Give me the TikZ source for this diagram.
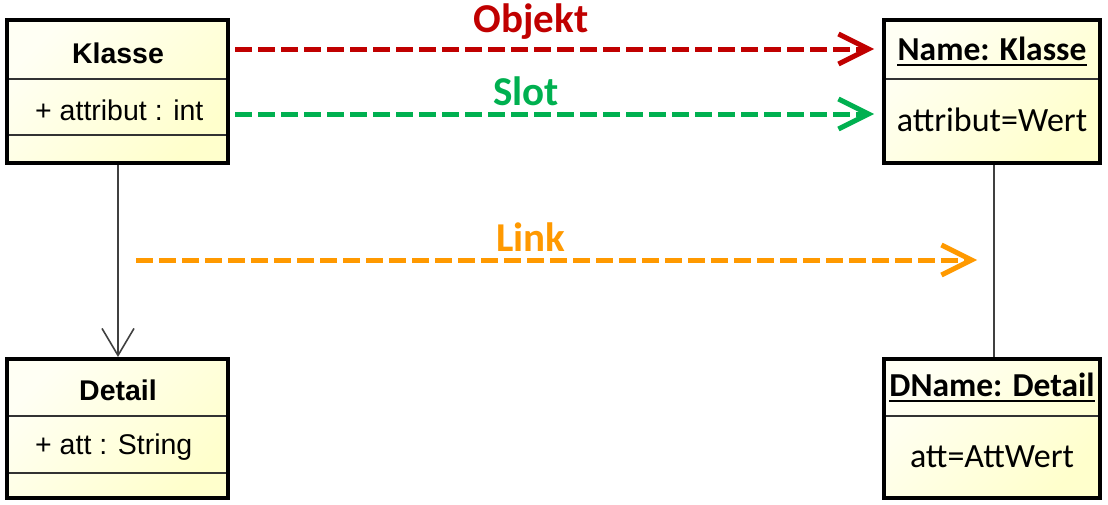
\documentclass[tikz,border=0pt]{standalone}
\usepackage{fontspec}
\newfontfamily\arialf{Liberation Sans}
\newfontfamily\calibrif{Carlito}
\usetikzlibrary{arrows.meta}
\definecolor{cred}{HTML}{C00000}
\definecolor{cgreen}{HTML}{00B050}
\definecolor{corange}{HTML}{FF9900}
\definecolor{cfillA}{HTML}{FFFFF4}
\definecolor{cfillB}{HTML}{FFFFCC}
\definecolor{cdiv}{HTML}{333333}
\definecolor{cline}{HTML}{404040}
\begin{document}
\begin{tikzpicture}[x=1pt,y=-1pt,
  umlbox/.style={draw=black,line width=4.5pt,left color=cfillA,right color=cfillB,shading angle=45},
  divline/.style={draw=cdiv,line width=1.8pt},
  cname/.style={inner sep=0pt,font=\arialf\bfseries\fontsize{28.5}{32}\selectfont},
  cattr/.style={inner sep=0pt,anchor=west,font=\arialf\fontsize{28.5}{32}\selectfont},
  oname/.style={inner sep=0pt,font=\calibrif\bfseries\fontsize{33.5}{38}\selectfont},
  oattr/.style={inner sep=0pt,font=\calibrif\fontsize{34}{38}\selectfont},
  lbl/.style={inner sep=0pt,font=\calibrif\bfseries\fontsize{41}{46}\selectfont},
  dasharrow/.style={line width=5pt,dash pattern=on 17pt off 6pt,-{Straight Barb[length=30pt,width=30pt,line width=5pt]}},
  assoc/.style={draw=cline,line width=1.6pt},
]
\useasboundingbox (0,0) rectangle (1108,504);

% boxes
\path[umlbox] (7,20) rectangle (228,163);
\node[inner sep=0pt,minimum width=221pt,minimum height=143pt] (klasse) at (117.5,91.5) {};
\path[umlbox] (884,20) rectangle (1100,163);
\node[inner sep=0pt,minimum width=216pt,minimum height=143pt] (obj) at (992,91.5) {};
\path[umlbox] (7,359) rectangle (228,498);
\node[inner sep=0pt,minimum width=221pt,minimum height=139pt] (detail) at (117.5,428.5) {};
\path[umlbox] (884,359) rectangle (1100,498);
\node[inner sep=0pt,minimum width=216pt,minimum height=139pt] (dobj) at (992,428.5) {};

% dividers
\draw[divline] (9,79) -- (226,79);
\draw[divline] (9,135) -- (226,135);
\draw[divline] (886,79) -- (1098,79);
\draw[divline] (9,416) -- (226,416);
\draw[divline] (9,473) -- (226,473);
\draw[divline] (886,416) -- (1098,416);

% texts
\node[cname] (tk) at (118,53) {Klasse};
\node[cattr] (ta) at (35,110) {+ attribut : int};
\node[cname] (td) at (118,390) {Detail};
\node[cattr] (tda) at (35,447) {+ att : String};
\node[oname] (tn) at (992,49) {Name: Klasse};
\draw[line width=1.8pt] ([yshift=-4.5pt]tn.base west) -- ([yshift=-4.5pt]tn.base east);
\node[oattr] (tw) at (992,120) {attribut=Wert};
\node[oname] (tdn) at (992,385) {DName: Detail};
\draw[line width=1.8pt] ([yshift=-4.5pt]tdn.base west) -- ([yshift=-4.5pt]tdn.base east);
\node[oattr] (taw) at (992,457) {att=AttWert};

% connectors
\coordinate (kb) at (118,165);
\coordinate (dt) at (118,357);
\draw[assoc,-{Straight Barb[length=27pt,width=32pt,line width=1.6pt]}] (kb) -- (dt);
\coordinate (ob) at (994,165);
\coordinate (dot) at (994,357);
\draw[assoc] (ob) -- (dot);

\coordinate (r1) at (235,49);
\coordinate (r2) at (874,49);
\draw[cred,dasharrow] (r1) -- (r2);
\coordinate (g1) at (235,114);
\coordinate (g2) at (874,114);
\draw[cgreen,dasharrow] (g1) -- (g2);
\coordinate (o1) at (136,260);
\coordinate (o2) at (977,260);
\draw[corange,dasharrow] (o1) -- (o2);

\node[lbl,text=cred] (lo) at (531,22) {Objekt};
\node[lbl,text=cgreen] (ls) at (526,91) {Slot};
\node[lbl,text=corange] (ll) at (531,237) {Link};
\end{tikzpicture}
\end{document}
